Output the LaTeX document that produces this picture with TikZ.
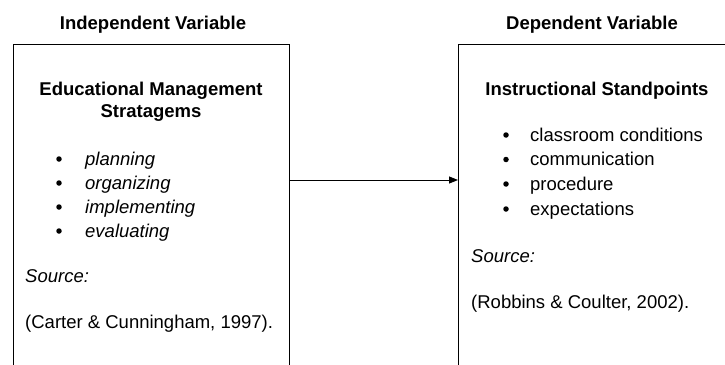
\documentclass[tikz,border=0pt]{standalone}
\usepackage{fontspec}
\setmainfont{Liberation Sans}
\usetikzlibrary{arrows.meta}
\begin{document}
\begin{tikzpicture}[x=1pt,y=-1pt,
  frame/.style={draw=black,line width=0.9pt,inner sep=0pt,anchor=north west},
  head/.style={font=\fontsize{18.5}{20}\selectfont\bfseries,anchor=base,inner sep=0pt},
  txt/.style={font=\fontsize{18.5}{20}\selectfont,anchor=base west,inner sep=0pt},
  itxt/.style={font=\fontsize{18.5}{20}\selectfont\itshape,anchor=base west,inner sep=0pt},
  bul/.style={circle,fill=black,inner sep=0pt,minimum size=5.5pt},
  arr/.style={line width=0.9pt,-{Triangle[length=9pt,width=7pt]}}]
\useasboundingbox (0,0) rectangle (725,364);
% boxes
\node[frame,minimum width=276pt,minimum height=360pt] (lb) at (13,44) {};
\node[frame,minimum width=300pt,minimum height=360pt] (rb) at (458,44) {};
% titles
\node[head] (tl) at (153,29) {Independent Variable};
\node[head] (tr) at (592,29) {Dependent Variable};
% left content
\node[head] (l1) at (151,95) {Educational Management};
\node[head] (l2) at (151,117) {Stratagems};
\node[bul] (lb1) at (59,159) {};
\node[itxt] (li1) at (85,165) {planning};
\node[bul] (lb2) at (59,183) {};
\node[itxt] (li2) at (85,189) {organizing};
\node[bul] (lb3) at (59,207) {};
\node[itxt] (li3) at (85,213) {implementing};
\node[bul] (lb4) at (59,231) {};
\node[itxt] (li4) at (85,237) {evaluating};
\node[itxt] (ls) at (25,282.5) {Source:};
\node[txt] (lc) at (25,328.5) {(Carter \& Cunningham, 1997).};
% right content
\node[head] (r1) at (597,95) {Instructional Standpoints};
\node[bul] (rb1) at (506,135) {};
\node[txt] (ri1) at (530,141) {classroom conditions};
\node[bul] (rb2) at (506,159.5) {};
\node[txt] (ri2) at (530,165.5) {communication};
\node[bul] (rb3) at (506,184) {};
\node[txt] (ri3) at (530,190) {procedure};
\node[bul] (rb4) at (506,209) {};
\node[txt] (ri4) at (530,215) {expectations};
\node[itxt] (rs) at (471,262.5) {Source:};
\node[txt] (rc) at (471,308.5) {(Robbins \& Coulter, 2002).};
% arrow
\coordinate (ay) at (0,180);
\draw[arr] (lb.east |- ay) -- (rb.west |- ay);
\end{tikzpicture}
\end{document}
